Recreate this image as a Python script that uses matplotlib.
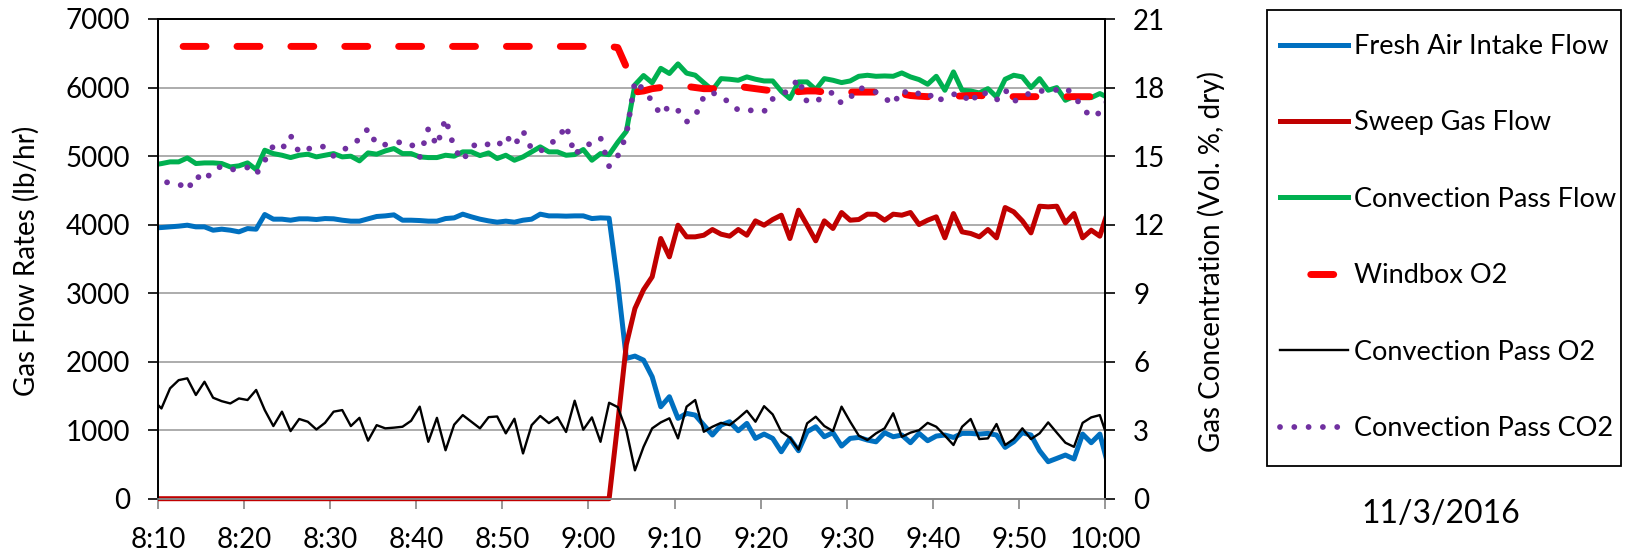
import matplotlib
matplotlib.use("Agg")
import matplotlib.pyplot as plt
from matplotlib.patches import Rectangle
from matplotlib.transforms import Bbox, TransformedBbox
import numpy as np

# one sample per minute, first sample ~8:09:24 (clipped at the axis), minutes after 8:10
minutes = np.arange(-1, 111) + 0.4

tick_minutes = [0, 10, 20, 30, 40, 50, 60, 70, 80, 90, 100, 110]
tick_labels = ["8:10", "8:20", "8:30", "8:40", "8:50", "9:00",
               "9:10", "9:20", "9:30", "9:40", "9:50", "10:00"]

# lb/hr
fresh_air = [
    3950, 3957, 3967, 3977, 3991, 3967, 3967, 3918, 3933, 3918,
    3894, 3942, 3933, 4147, 4079, 4079, 4064, 4084, 4084, 4074,
    4088, 4084, 4064, 4050, 4050, 4084, 4118, 4127, 4142, 4064,
    4064, 4059, 4050, 4050, 4088, 4098, 4152, 4113, 4079, 4054,
    4035, 4050, 4035, 4064, 4079, 4152, 4127, 4127, 4123, 4127,
    4127, 4088, 4098, 4093, 3150, 2047, 2081, 2022, 1779, 1342,
    1488, 1172, 1245, 1220, 1074, 929, 1074, 1123, 992, 1099,
    880, 943, 880, 685, 880, 700, 977, 1050, 904, 963,
    768, 880, 894, 856, 830, 963, 904, 929, 817, 953,
    846, 914, 929, 894, 953, 953, 943, 953, 929, 749,
    831, 963, 929, 700, 540, 588, 637, 579, 943, 817,
    943, 470]

sweep_gas = [
    0, 0, 0, 0, 0, 0, 0, 0, 0, 0,
    0, 0, 0, 0, 0, 0, 0, 0, 0, 0,
    0, 0, 0, 0, 0, 0, 0, 0, 0, 0,
    0, 0, 0, 0, 0, 0, 0, 0, 0, 0,
    0, 0, 0, 0, 0, 0, 0, 0, 0, 0,
    0, 0, 0, 0, 1100, 2250, 2776, 3050, 3238, 3797,
    3529, 3991, 3821, 3821, 3845, 3928, 3860, 3831, 3928, 3845,
    4054, 3991, 4074, 4137, 3797, 4210, 3991, 3763, 4054, 3943,
    4176, 4064, 4074, 4152, 4150, 4064, 4152, 4137, 4176, 4001,
    4064, 4113, 3807, 4161, 3894, 3870, 3821, 3928, 3807, 4249,
    4186, 4054, 3879, 4268, 4259, 4268, 4025, 4161, 3807, 3918,
    3831, 4220]

conv_flow = [
    4870, 4890, 4915, 4915, 4973, 4891, 4900, 4900, 4891, 4842,
    4857, 4900, 4803, 5085, 5036, 5012, 4978, 5012, 5027, 4988,
    5012, 5036, 4988, 4998, 4930, 5046, 5027, 5075, 5109, 5036,
    5036, 4988, 4978, 4978, 5012, 4998, 5061, 5061, 5007, 5046,
    4964, 5012, 4939, 4988, 5061, 5134, 5061, 5061, 5012, 5022,
    5095, 4939, 5036, 5020, 5200, 5360, 6040, 6175, 6070, 6280,
    6205, 6345, 6210, 6180, 6070, 5962, 6130, 6121, 6106, 6155,
    6121, 6096, 6096, 5946, 5839, 6082, 6082, 5970, 6130, 6106,
    6072, 6096, 6164, 6179, 6164, 6169, 6164, 6213, 6155, 6116,
    6048, 6164, 5960, 6228, 5960, 5950, 5921, 5984, 5863, 6121,
    6179, 6155, 5999, 6130, 5960, 5999, 5814, 5873, 5853, 5853,
    5912, 5850]

# Vol. %, dry
windbox_o2 = [
    19.8, 19.8, 19.8, 19.8, 19.8, 19.8, 19.8, 19.8, 19.8, 19.8,
    19.8, 19.8, 19.8, 19.8, 19.8, 19.8, 19.8, 19.8, 19.8, 19.8,
    19.8, 19.8, 19.8, 19.8, 19.8, 19.8, 19.8, 19.8, 19.8, 19.8,
    19.8, 19.8, 19.8, 19.8, 19.8, 19.8, 19.8, 19.8, 19.8, 19.8,
    19.8, 19.8, 19.8, 19.8, 19.8, 19.8, 19.8, 19.8, 19.8, 19.8,
    19.8, 19.8, 19.8, 19.8, 19.75, 18.9, 17.8, 17.85, 17.95, 18.0,
    18.0, 18.0, 18.05, 18.0, 17.95, 17.95, 17.95, 18.0, 18.05, 18.0,
    17.95, 17.9, 17.85, 17.8, 17.8, 17.82, 17.85, 17.85, 17.8, 17.8,
    17.8, 17.8, 17.8, 17.8, 17.8, 17.78, 17.77, 17.72, 17.65, 17.62,
    17.6, 17.6, 17.62, 17.62, 17.63, 17.65, 17.65, 17.62, 17.6, 17.6,
    17.6, 17.6, 17.6, 17.6, 17.6, 17.6, 17.6, 17.6, 17.6, 17.6,
    17.6, 17.6]

conv_o2 = [
    4.33, 3.95, 4.83, 5.19, 5.27, 4.54, 5.12, 4.42, 4.27, 4.17,
    4.39, 4.32, 4.76, 3.88, 3.18, 3.81, 2.96, 3.49, 3.37, 3.03,
    3.32, 3.81, 3.88, 3.18, 3.54, 2.54, 3.22, 3.08, 3.11, 3.15,
    3.41, 4.03, 2.49, 3.54, 2.12, 3.24, 3.66, 3.37, 3.08, 3.57,
    3.60, 2.86, 3.50, 1.98, 3.22, 3.62, 3.31, 3.57, 2.92, 4.29,
    3.02, 3.56, 2.49, 4.20, 4.01, 3.00, 1.24, 2.27, 3.08, 3.34,
    3.52, 2.64, 4.03, 4.32, 2.93, 3.15, 3.32, 3.22, 3.52, 3.85,
    3.37, 4.05, 3.69, 2.93, 2.67, 2.15, 3.30, 3.59, 3.18, 2.96,
    4.03, 3.37, 2.76, 2.57, 2.86, 3.08, 3.74, 2.71, 2.89, 3.00,
    3.32, 3.15, 2.76, 2.35, 3.15, 3.49, 2.61, 2.64, 3.27, 2.35,
    2.61, 3.08, 2.61, 2.86, 3.34, 2.89, 2.45, 2.27, 3.32, 3.56,
    3.66, 2.55]

conv_co2 = [
    13.9, 13.85, 13.85, 13.8, 13.5, 14.15, 13.9, 14.4, 14.55, 14.4,
    14.45, 14.5, 14.2, 14.8, 15.45, 15.3, 15.9, 15.15, 15.3, 15.45,
    15.4, 15.0, 15.25, 15.45, 15.75, 16.2, 15.5, 15.5, 15.6, 15.6,
    15.55, 14.95, 16.2, 15.45, 16.65, 15.35, 14.8, 15.4, 15.6, 15.5,
    15.4, 15.9, 15.45, 16.1, 15.3, 15.2, 15.55, 15.7, 16.35, 15.05,
    15.45, 15.55, 15.8, 14.55, 15.0, 15.9, 18.3, 17.9, 17.4, 16.8,
    17.2, 17.0, 16.5, 16.75, 17.6, 17.8, 17.5, 17.4, 17.0, 17.0,
    17.0, 16.95, 17.5, 17.7, 17.9, 18.4, 17.35, 17.4, 17.6, 17.8,
    17.3, 17.55, 18.0, 17.9, 17.8, 17.55, 17.25, 17.9, 17.65, 17.75,
    17.8, 17.35, 17.6, 17.7, 17.75, 17.3, 17.85, 17.7, 17.45, 17.9,
    17.4, 17.55, 17.8, 17.85, 17.85, 17.9, 18.0, 17.65, 17.1, 16.7,
    16.9, 17.5]

plt.rcParams['font.family'] = ['Lato', 'DejaVu Sans']
FS = 20
W, H = 1632, 556

fig = plt.figure(figsize=(W / 100, H / 100), dpi=100)
x0, x1, y0, y1 = 158, 1105, 19, 498.7
ax = fig.add_axes([x0 / W, 1 - y1 / H, (x1 - x0) / W, (y1 - y0) / H])
ax2 = ax.twinx()

l1, = ax.plot(minutes, fresh_air, color="#0070C0", lw=3.6, label="Fresh Air Intake Flow")
l2, = ax.plot(minutes, sweep_gas, color="#C00000", lw=3.6, label="Sweep Gas Flow")
l3, = ax.plot(minutes, conv_flow, color="#00B050", lw=3.6, label="Convection Pass Flow")
# let the flat zero line sit on the bottom spine without being cut in half
l2.set_clip_box(TransformedBbox(Bbox([[0, -0.03], [1, 1.03]]), ax.transAxes))

l4, = ax2.plot(minutes, windbox_o2, color="#FF0000", lw=5.0,
               linestyle=(3.4, (3.3, 4.46)), dash_capstyle="round", label="Windbox O2")
l5, = ax2.plot(minutes, conv_o2, color="black", lw=1.7, label="Convection Pass O2")
l6, = ax2.plot(minutes, conv_co2, color="#7030A0", lw=4.2,
               linestyle=(0, (0.001, 2.45)), dash_capstyle="round", label="Convection Pass CO2")

ax.set_xlim(0, 110)
ax.set_ylim(0, 7000)
ax.set_yticks(range(0, 7001, 1000))
ax2.set_ylim(0, 21)
ax2.set_yticks(range(0, 22, 3))
ax.set_xticks(tick_minutes)
ax.set_xticklabels(tick_labels)

ax.yaxis.grid(True, color="#a6a6a6", lw=1.3)
ax.set_axisbelow(True)

ax.tick_params(axis="y", direction="out", length=7.2, width=1.2, labelsize=FS, pad=13)
ax.tick_params(axis="x", direction="out", length=7.2, width=1.2, color="#868686",
               labelsize=FS, pad=13)
ax2.tick_params(axis="y", direction="out", length=7.2, width=1.2, labelsize=FS, pad=13)

for a in (ax, ax2):
    for side in ("left", "right", "top"):
        a.spines[side].set_color("black")
        a.spines[side].set_linewidth(1.3)
    a.spines["bottom"].set_color("#868686")
    a.spines["bottom"].set_linewidth(1.2)

fig.text(26 / W, 1 - 261 / H, "Gas Flow Rates (lb/hr)", rotation=90,
         ha="center", va="center", fontsize=FS)
fig.text(1211 / W, 1 - 261 / H, "Gas Concentration (Vol. %, dry)", rotation=90,
         ha="center", va="center", fontsize=FS)

# legend box outside the plot
fig.add_artist(Rectangle((1267 / W, 1 - 466 / H), (1621 - 1267) / W, (466 - 10) / H,
                         transform=fig.transFigure, fill=False, ec="black", lw=1.3))
fig.legend([l1, l2, l3, l4, l5, l6], [h.get_label() for h in (l1, l2, l3, l4, l5, l6)],
           loc="upper left", bbox_to_anchor=(1280 / W, 1 - 34 / H), frameon=False,
           fontsize=19.5, borderpad=0, borderaxespad=0, handlelength=2.5,
           handletextpad=0.22, labelspacing=1.9)

fig.text(1441 / W, 1 - 514 / H, "11/3/2016", ha="center", va="center", fontsize=23)

fig.savefig("out.png", dpi=100)
